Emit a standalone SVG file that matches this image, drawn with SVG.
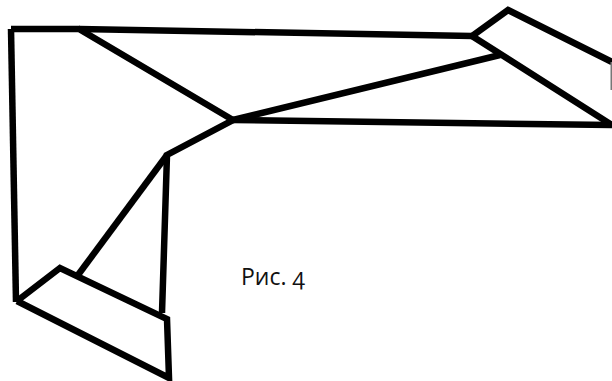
<svg xmlns="http://www.w3.org/2000/svg" width="612" height="381" viewBox="0 0 612 381">
<style>.l{fill:none;stroke:#000;stroke-width:6.5;stroke-linejoin:miter;stroke-linecap:butt}.t{font-family:"Open Sans","Noto Sans",sans-serif;font-size:23px;font-variant-numeric:oldstyle-nums;fill:#111}</style>
<rect width="612" height="381" fill="#fff"/>
<g id="connectors">
<path class="l" d="M79 29L472 36"/>
<path class="l" d="M11 29H79L233 120L167 155L162 313"/>
<path class="l" d="M11 29L16 302"/>
<path class="l" d="M233 120L500 55"/>
<path class="l" d="M233 120L612 125"/>
<path class="l" d="M167 155L78 275"/>
</g>
<g id="top-right"><path class="l" d="M612 125L472 36L508 10L612 62"/><path d="M610.5 62H612V90H610.5Z" fill="#777"/></g>
<g id="bottom-left"><path class="l" d="M17 301L60 268L167 319L169 378L17 301"/></g>
<g id="label"><text class="t" x="241" y="285">Рис. 4</text></g>
</svg>
